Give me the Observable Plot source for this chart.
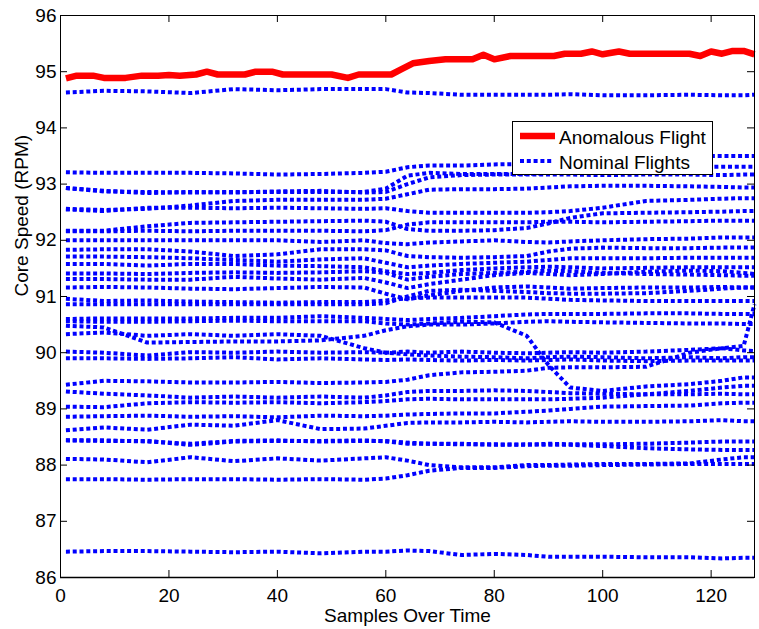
<!DOCTYPE html>
<html><head><meta charset="utf-8">
<script src="https://cdn.jsdelivr.net/npm/d3@7"></script>
<script src="https://cdn.jsdelivr.net/npm/@observablehq/plot@0.6"></script>
<style>
body{margin:0;background:#fff;font-family:"Liberation Sans",Arial,sans-serif;}
#wrap{position:relative;width:759px;height:629px;}
#legend{position:absolute;left:512px;top:121px;width:201px;height:54px;}
</style></head><body><div id="wrap"></div>
<script>
// sample positions (x) at which nominal flights were read
const sampleX = [1, 8, 16, 24, 32, 40, 48, 56, 60, 64, 68, 74, 80, 86, 90, 94, 100, 108, 116, 122, 126, 128];

// anomalous flight
const redX = [1,3,6,8,12,15,18,20,22,25,27,29,34,36,39,41,50,53,55,61,63,65,68,71,76,78,80,83,91,93,96,98,100,103,105,116,118,120,122,124,126,128];
const redY = [94.88,94.93,94.93,94.89,94.89,94.93,94.93,94.94,94.93,94.95,95.00,94.95,94.95,95.00,95.00,94.95,94.95,94.89,94.95,94.95,95.05,95.15,95.19,95.22,95.22,95.30,95.22,95.28,95.28,95.32,95.32,95.36,95.31,95.36,95.32,95.32,95.28,95.36,95.32,95.37,95.37,95.31];

// nominal flights
const n01 = [94.63,94.66,94.65,94.62,94.69,94.67,94.69,94.69,94.69,94.63,94.62,94.59,94.59,94.59,94.59,94.60,94.58,94.58,94.59,94.58,94.58,94.59];
const n02 = [93.21,93.20,93.20,93.20,93.19,93.17,93.18,93.20,93.22,93.30,93.33,93.33,93.35,93.36,93.40,93.45,93.50,93.50,93.50,93.50,93.50,93.50];
const n03 = [92.93,92.87,92.86,92.85,92.86,92.86,92.86,92.86,92.92,93.15,93.20,93.18,93.18,93.18,93.20,93.22,93.25,93.28,93.30,93.31,93.31,93.31];
const n04 = [92.93,92.88,92.84,92.86,92.85,92.87,92.88,92.85,92.86,93.00,93.12,93.16,93.17,93.17,93.17,93.17,93.16,93.17,93.17,93.16,93.17,93.17];
const n05 = [92.56,92.54,92.56,92.62,92.70,92.72,92.72,92.72,92.74,92.82,92.90,92.91,92.91,92.92,92.94,92.96,92.97,92.97,92.96,92.95,92.94,92.94];
const n06 = [92.55,92.52,92.58,92.58,92.57,92.58,92.57,92.56,92.57,92.52,92.49,92.49,92.49,92.49,92.50,92.52,92.58,92.70,92.72,92.74,92.75,92.75];
const n07 = [92.17,92.17,92.25,92.31,92.32,92.33,92.34,92.35,92.33,92.20,92.17,92.17,92.18,92.22,92.30,92.40,92.48,92.49,92.50,92.51,92.52,92.52];
const n08 = [92.16,92.16,92.17,92.16,92.17,92.17,92.17,92.16,92.18,92.28,92.32,92.32,92.32,92.32,92.33,92.33,92.32,92.33,92.34,92.35,92.35,92.35];
const n09 = [92.00,92.00,92.00,92.00,92.00,92.00,91.97,92.00,91.95,91.93,91.96,91.98,92.00,91.97,91.96,91.98,92.00,92.02,92.03,92.05,92.05,92.05];
const n10 = [91.83,91.84,91.84,91.80,91.72,91.75,91.84,91.84,91.82,91.72,91.70,91.69,91.70,91.72,91.80,91.85,91.87,91.86,91.86,91.87,91.87,91.87];
const n11 = [91.71,91.71,91.70,91.68,91.65,91.62,91.66,91.68,91.60,91.52,91.55,91.58,91.60,91.62,91.65,91.68,91.68,91.68,91.69,91.69,91.69,91.69];
const n12 = [91.58,91.58,91.55,91.58,91.58,91.55,91.54,91.52,91.45,91.40,91.42,91.47,91.50,91.52,91.53,91.52,91.50,91.51,91.52,91.52,91.52,91.52];
const n13 = [91.41,91.41,91.40,91.42,91.43,91.42,91.43,91.45,91.42,91.30,91.35,91.40,91.42,91.44,91.46,91.45,91.42,91.40,91.39,91.38,91.37,91.37];
const n14 = [91.31,91.31,91.30,91.30,91.35,91.32,91.30,91.33,91.25,91.15,91.22,91.30,91.38,91.42,91.40,91.38,91.40,91.44,91.46,91.45,91.42,91.40];
const n15 = [91.16,91.17,91.16,91.14,91.13,91.15,91.17,91.16,91.05,90.95,91.02,91.10,91.16,91.18,91.16,91.14,91.15,91.16,91.16,91.17,91.16,91.16];
const n16 = [90.96,90.92,90.93,90.91,90.90,90.89,90.90,90.90,90.93,90.97,90.98,90.98,90.98,90.98,90.96,90.94,90.93,90.92,90.92,90.92,90.92,90.92];
const n17 = [90.86,90.86,90.86,90.86,90.86,90.86,90.86,90.86,90.88,91.00,91.10,91.12,91.10,91.08,91.06,91.05,91.05,91.06,91.10,91.14,91.16,91.16];
const n18 = [90.60,90.61,90.61,90.61,90.62,90.62,90.65,90.62,90.60,90.58,90.60,90.62,90.65,90.68,90.69,90.69,90.69,90.70,90.70,90.69,90.69,90.69];
const n19 = [90.56,90.55,90.55,90.56,90.57,90.56,90.56,90.56,90.52,90.50,90.52,90.55,90.54,90.30,89.78,89.38,89.32,89.40,89.44,89.50,89.56,89.56];
const n20 = [90.48,90.45,90.18,90.19,90.20,90.20,90.22,90.30,90.40,90.47,90.50,90.50,90.52,90.55,90.56,90.55,90.54,90.53,90.52,90.52,90.51,90.51];
const n21 = [90.33,90.36,90.30,90.33,90.30,90.33,90.30,90.08,90.00,89.97,89.95,89.93,89.92,89.90,89.92,89.93,89.92,89.90,89.92,89.90,89.92,89.92];
const n22 = [90.02,90.00,89.95,90.01,90.00,90.02,90.00,90.01,90.00,90.02,90.00,90.02,90.00,89.99,90.00,90.01,90.00,90.02,90.05,90.08,90.12,90.86];
const n23 = [89.90,89.90,89.89,89.90,89.92,89.88,89.90,89.88,89.87,89.88,89.87,89.86,89.87,89.86,89.87,89.88,89.86,89.85,89.86,89.86,89.86,89.86];
const n24 = [89.43,89.50,89.49,89.47,89.47,89.48,89.46,89.47,89.48,89.52,89.60,89.65,89.66,89.68,89.73,89.74,89.74,89.75,90.00,90.08,90.04,90.03];
const n25 = [89.31,89.27,89.24,89.20,89.22,89.20,89.22,89.20,89.24,89.30,89.32,89.32,89.33,89.32,89.30,89.28,89.27,89.26,89.26,89.27,89.26,89.26];
const n26 = [89.04,89.03,89.10,89.12,89.11,89.12,89.10,89.12,89.14,89.17,89.18,89.17,89.17,89.17,89.17,89.18,89.20,89.26,89.32,89.38,89.41,89.41];
const n27 = [88.86,88.87,88.88,88.86,88.87,88.85,88.88,88.87,88.88,88.90,88.91,88.92,88.92,88.95,88.97,89.00,89.04,89.05,89.06,89.10,89.11,89.11];
const n28 = [88.62,88.67,88.63,88.72,88.70,88.80,88.64,88.65,88.70,88.75,88.76,88.76,88.77,88.76,88.77,88.78,88.77,88.77,88.78,88.80,88.78,88.78];
const n29 = [88.44,88.43,88.43,88.36,88.42,88.43,88.43,88.44,88.42,88.38,88.38,88.37,88.37,88.36,88.38,88.37,88.37,88.38,88.40,88.42,88.42,88.42];
const n30 = [88.44,88.44,88.42,88.38,88.43,88.44,88.42,88.43,88.43,88.40,88.38,88.38,88.36,88.37,88.36,88.36,88.34,88.30,88.28,88.27,88.27,88.27];
const n31 = [88.11,88.10,88.05,88.14,88.07,88.12,88.08,88.12,88.14,88.08,88.00,87.96,87.96,88.00,88.00,88.01,88.02,88.02,88.03,88.10,88.14,88.14];
const n32 = [87.75,87.75,87.74,87.75,87.75,87.74,87.75,87.74,87.76,87.82,87.90,87.95,87.95,87.98,87.99,87.99,88.00,88.01,88.02,88.02,88.02,88.02];
const n33 = [86.46,86.47,86.47,86.46,86.45,86.46,86.43,86.46,86.46,86.48,86.47,86.40,86.42,86.40,86.37,86.37,86.37,86.36,86.36,86.34,86.35,86.35];

const xTicks = [0, 20, 40, 60, 80, 100, 120];
const yTicks = [86, 87, 88, 89, 90, 91, 92, 93, 94, 95, 96];
const legendLabels = ["Anomalous Flight", "Nominal Flights"];

const nominal = [n01,n02,n03,n04,n05,n06,n07,n08,n09,n10,n11,n12,n13,n14,n15,n16,n17,n18,n19,n20,n21,n22,n23,n24,n25,n26,n27,n28,n29,n30,n31,n32,n33];
const nomData = nominal.flatMap((ys, i) => ys.map((y, j) => ({id: i, x: sampleX[j], y})));
const redData = redX.map((x, i) => ({x, y: redY[i]}));

const W = 759, H = 629, mt = 15, mb = 52, ml = 60, mr = 5;
const pw = W - ml - mr, ph = H - mt - mb;
const FONT = "'Liberation Sans', Arial, Helvetica, sans-serif";

const chart = Plot.plot({
  width: W, height: H, marginTop: mt, marginBottom: mb, marginLeft: ml, marginRight: mr,
  style: {fontFamily: FONT, fontSize: "19px", background: "#fff", color: "#000", overflow: "visible"},
  x: {domain: [0, 128], label: null},
  y: {domain: [86, 96], label: null},
  marks: [
    Plot.line(nomData, {x: "x", y: "y", z: "id", stroke: "#0000ff", strokeWidth: 4, strokeDasharray: "4,2.8", strokeLinecap: "butt", strokeLinejoin: "miter"}),
    Plot.line(redData, {x: "x", y: "y", stroke: "#ff0000", strokeWidth: 6.5, strokeLinejoin: "round", strokeLinecap: "butt"}),
    Plot.frame({stroke: "#000", strokeWidth: 1}),
    Plot.ruleY([86], {stroke: "#000", strokeWidth: 1.6}),
    Plot.tickX(xTicks, {x: d => d, insetTop: ph - 7, stroke: "#000"}),
    Plot.tickX(xTicks, {x: d => d, insetBottom: ph - 7, stroke: "#000"}),
    Plot.tickY(yTicks, {y: d => d, insetRight: pw - 7, stroke: "#000"}),
    Plot.tickY(yTicks, {y: d => d, insetLeft: pw - 7, stroke: "#000"}),
    Plot.axisX({ticks: xTicks, tickSize: 0, tickPadding: 11, fontSize: 19, label: null}),
    Plot.axisY({ticks: yTicks, tickSize: 0, tickPadding: 4, fontSize: 19, label: null}),
    Plot.text(["Samples Over Time"], {text: d => d, frameAnchor: "bottom", dy: 44, fontSize: 19}),
    Plot.text(["Core Speed (RPM)"], {text: d => d, frameAnchor: "left", dx: -39, rotate: -90, fontSize: 19})
  ]
});
const wrap = document.getElementById("wrap");
wrap.appendChild(chart);

// legend
const ns = "http://www.w3.org/2000/svg";
const leg = document.createElementNS(ns, "svg");
leg.setAttribute("id", "legend");
leg.setAttribute("width", 201); leg.setAttribute("height", 54);
leg.innerHTML = `
<rect x="0.5" y="0.5" width="200" height="53" fill="#fff" stroke="#000" stroke-width="1"/>
<line x1="8" x2="43" y1="15" y2="15" stroke="#ff0000" stroke-width="6.5"/>
<line x1="8" x2="40" y1="40" y2="40" stroke="#0000ff" stroke-width="4" stroke-dasharray="4,2.8"/>
<text x="47" y="22.5" font-family="${FONT}" font-size="19" fill="#000">${legendLabels[0]}</text>
<text x="47" y="47.5" font-family="${FONT}" font-size="19" fill="#000">${legendLabels[1]}</text>`;
wrap.appendChild(leg);
</script></body></html>
